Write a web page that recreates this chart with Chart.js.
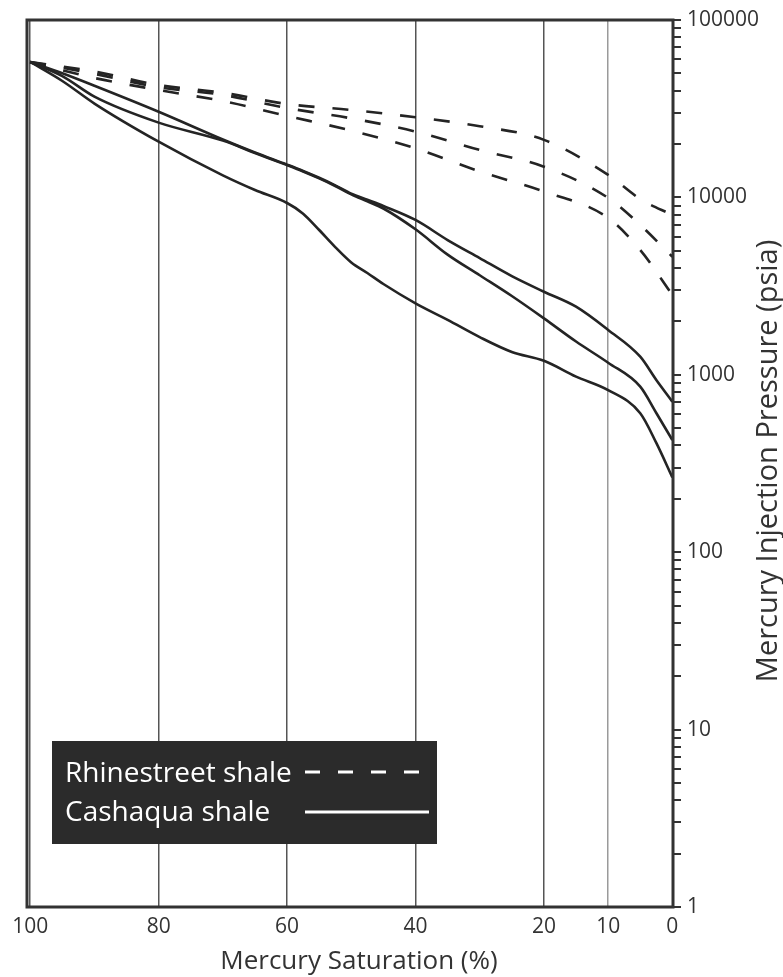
<!DOCTYPE html>
<html>
<head>
<meta charset="utf-8">
<script src="https://cdn.jsdelivr.net/npm/chart.js@4.4.1/dist/chart.umd.min.js"></script>
<style>
    html, body { margin: 0; padding: 0; overflow: hidden; background: #fff; }
    canvas { display: block; }
</style>
</head>
<body>
<canvas id="myChart" width="783" height="977"></canvas>
<script>
// mercury saturation (%) where the curves were read
const dashSat = [100, 90, 80, 70, 60, 50, 40, 30, 20, 10, 5, 0];
const solidSat = [100, 95, 90, 80, 70, 65, 60, 57.5, 55, 52.5, 50, 47.5, 45, 40, 35, 30, 25, 20, 15, 10, 5, 2.5, 0];

// Rhinestreet shale (dashed), psia
const rhine1 = [58000, 51200, 43000, 38900, 33600, 31100, 28300, 25200, 21100, 13400, 9790, 7960];
const rhine2 = [58000, 49700, 41800, 37800, 31900, 27900, 23500, 18500, 14900, 9940, 6990, 4630];
const rhine3 = [58000, 47100, 40300, 34900, 28800, 23800, 18900, 14000, 10800, 7660, 5050, 2820];

// Cashaqua shale (solid), psia
const cash1 = [58000, 50100, 42600, 30400, 21200, 17900, 15300, 14100, 12900, 11700, 10500, 9700, 8950, 7460, 5750, 4550, 3600, 2940, 2420, 1790, 1265, 935, 706];
const cash2 = [58000, 48300, 37000, 26400, 20900, 17800, 15200, 14000, 12800, 11600, 10400, 9500, 8660, 6610, 4760, 3640, 2780, 2080, 1540, 1170, 857, 609, 429];
const cash3 = [58000, 45300, 33800, 20600, 13300, 11000, 9300, 8100, 6550, 5250, 4300, 3750, 3250, 2530, 2040, 1630, 1345, 1200, 977, 820, 607, 413, 264];

const seriesNames = ['Rhinestreet shale', 'Cashaqua shale'];
const xTicks = [100, 80, 60, 40, 20, 10, 0];
const yLabels = [1, 10, 100, 1000, 10000, 100000];
const xTitle = 'Mercury Saturation (%)';
const yTitle = 'Mercury Injection Pressure (psia)';

const ink = '#242424';
Chart.defaults.font.family = "'Open Sans', sans-serif";
Chart.defaults.color = '#333';

function pairs(xs, ys) {
    return xs.map(function (x, i) { return { x: x, y: ys[i] }; });
}

function makeSet(label, xs, ys, dashed) {
    return {
        label: label,
        data: pairs(xs, ys),
        borderColor: ink,
        borderWidth: 2.6,
        borderDash: dashed ? [16, 18] : [],
        pointRadius: 0,
        fill: false,
        cubicInterpolationMode: 'monotone'
    };
}

// y axis ticks: every 1..9 x 10^n
const yTickValues = [];
for (let i = 0; i < yLabels.length; i++) {
    for (let m = 1; m <= 9; m++) {
        const v = yLabels[i] * m;
        if (v <= 100000) yTickValues.push(v);
    }
}

const framePlugin = {
    id: 'frame',
    afterDraw: function (chart) {
        const ctx = chart.ctx;
        const a = chart.chartArea;
        const yScale = chart.scales.y;
        ctx.save();
        ctx.strokeStyle = '#333';
        ctx.lineWidth = 3;
        ctx.strokeRect(a.left, a.top, a.right - a.left, a.bottom - a.top);

        // y labels, powers of ten only
        ctx.fillStyle = '#333';
        ctx.font = "21px 'Open Sans', sans-serif";
        ctx.textAlign = 'left';
        ctx.textBaseline = 'middle';
        yLabels.forEach(function (v) {
            ctx.fillText(String(v), a.right + 14, yScale.getPixelForValue(v));
        });

        // axis titles
        ctx.font = "26px 'Open Sans', sans-serif";
        ctx.textAlign = 'center';
        ctx.textBaseline = 'alphabetic';
        ctx.fillText(xTitle, 359, 969);

        ctx.translate(777, 461);
        ctx.rotate(-Math.PI / 2);
        ctx.font = "29px 'Open Sans', sans-serif";
        ctx.fillText(yTitle, 0, 0);
        ctx.restore();

        // legend box
        const bx = a.left + 25, by = a.bottom - 166;
        ctx.save();
        ctx.fillStyle = '#2b2b2b';
        ctx.fillRect(bx, by, 385, 103);
        ctx.fillStyle = '#fff';
        ctx.font = "28px 'Open Sans', sans-serif";
        ctx.textBaseline = 'alphabetic';
        ctx.fillText(seriesNames[0], bx + 13, by + 41);
        ctx.fillText(seriesNames[1], bx + 13, by + 80);
        ctx.strokeStyle = '#fff';
        ctx.lineWidth = 3;
        ctx.setLineDash([15, 18]);
        ctx.beginPath();
        ctx.moveTo(bx + 253, by + 31);
        ctx.lineTo(bx + 377, by + 31);
        ctx.stroke();
        ctx.setLineDash([]);
        ctx.beginPath();
        ctx.moveTo(bx + 253, by + 71);
        ctx.lineTo(bx + 377, by + 71);
        ctx.stroke();
        ctx.restore();
    }
};

const config = {
    type: 'line',
    data: {
        datasets: [
            makeSet(seriesNames[0], dashSat, rhine1, true),
            makeSet(seriesNames[0], dashSat, rhine2, true),
            makeSet(seriesNames[0], dashSat, rhine3, true),
            makeSet(seriesNames[1], solidSat, cash1, false),
            makeSet(seriesNames[1], solidSat, cash2, false),
            makeSet(seriesNames[1], solidSat, cash3, false)
        ]
    },
    options: {
        responsive: false,
        animation: false,
        layout: { padding: { left: 27, top: 20, right: 30, bottom: 0 } },
        plugins: {
            legend: { display: false },
            tooltip: { enabled: false }
        },
        scales: {
            x: {
                type: 'linear',
                reverse: true,
                min: -0.1,
                max: 100.5,
                afterBuildTicks: function (s) {
                    s.ticks = xTicks.map(function (v) { return { value: v }; });
                },
                afterFit: function (s) { s.height = 70; },
                ticks: {
                    autoSkip: false,
                    maxRotation: 0,
                    padding: 7,
                    color: '#333',
                    font: { size: 21 }
                },
                grid: {
                    drawTicks: false,
                    color: function (c) {
                        return c.tick && c.tick.value === 10 ? '#9a9a9a' : '#555';
                    },
                    lineWidth: 1.5
                },
                border: { display: false }
            },
            y: {
                type: 'logarithmic',
                position: 'right',
                min: 1,
                max: 100000,
                afterBuildTicks: function (s) {
                    s.ticks = yTickValues.map(function (v) { return { value: v }; });
                },
                afterFit: function (s) { s.width = 80; },
                ticks: { display: false },
                grid: {
                    drawOnChartArea: false,
                    drawTicks: true,
                    tickLength: 8,
                    color: '#333',
                    lineWidth: 2
                },
                border: { display: false }
            }
        }
    },
    plugins: [framePlugin]
};

const myChart = new Chart(document.getElementById('myChart'), config);
</script>
</body>
</html>
